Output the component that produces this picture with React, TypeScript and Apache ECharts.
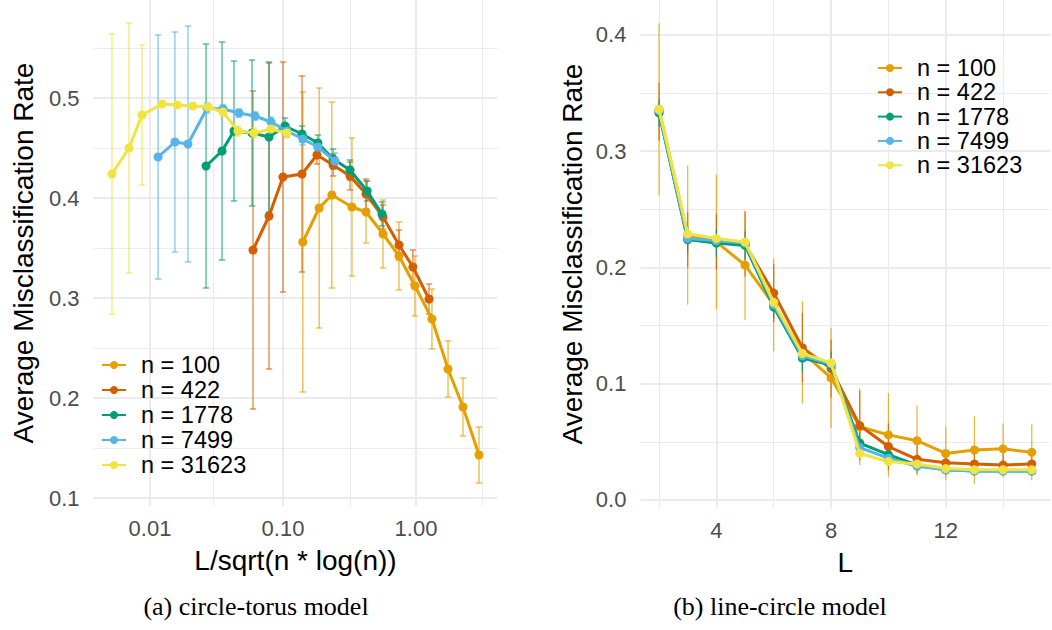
import React, { useEffect, useRef } from "react";
import * as echarts from "echarts";

const seriesNames = ["n = 100", "n = 422", "n = 1778", "n = 7499", "n = 31623"];
const colors = ["#E69F00", "#D55E00", "#009E73", "#56B4E9", "#F0E442"];

// ---------- (a) circle-torus model : x = L/sqrt(n*log(n)) ----------
const leftX100 = [0.141, 0.187, 0.233, 0.330, 0.421, 0.565, 0.745, 0.982, 1.318, 1.741, 2.256, 2.977];
const leftY100 = [0.356, 0.390, 0.403, 0.391, 0.386, 0.364, 0.342, 0.312, 0.279, 0.229, 0.191, 0.143];
const leftSd100 = [0.150, 0.120, 0.093, 0.069, 0.031, 0.034, 0.034, 0.030, 0.030, 0.028, 0.029, 0.028];

const leftX422 = [0.0595, 0.0785, 0.100, 0.139, 0.180, 0.238, 0.319, 0.421, 0.565, 0.745, 0.948, 1.253];
const leftY422 = [0.348, 0.382, 0.421, 0.424, 0.443, 0.433, 0.422, 0.404, 0.381, 0.353, 0.331, 0.299];
const leftSd422 = [0.159, 0.153, 0.115, 0.098, 0.009, 0.011, 0.014, 0.015, 0.012, 0.015, 0.017, 0.015];

const leftX1778 = [0.0264, 0.0348, 0.0428, 0.0585, 0.0785, 0.1035, 0.139, 0.183, 0.238, 0.319, 0.429, 0.555];
const leftY1778 = [0.432, 0.447, 0.467, 0.465, 0.461, 0.472, 0.464, 0.455, 0.439, 0.428, 0.407, 0.384];
const leftSd1778 = [0.122, 0.109, 0.070, 0.073, 0.075, 0.008, 0.008, 0.008, 0.010, 0.010, 0.010, 0.012];

const leftX7499 = [0.0115, 0.0154, 0.0193, 0.0269, 0.0354, 0.0467, 0.0616, 0.0813, 0.107, 0.141, 0.183, 0.246];
const leftY7499 = [0.441, 0.456, 0.454, 0.490, 0.489, 0.485, 0.482, 0.476, 0.467, 0.459, 0.451, 0.437];
const leftSd7499 = [0.122, 0.110, 0.118, 0.005, 0.004, 0.004, 0.004, 0.005, 0.006, 0.006, 0.007, 0.008];

const leftX31623 = [0.00518, 0.00695, 0.00871, 0.0123, 0.0160, 0.0210, 0.0273, 0.0354, 0.0459, 0.0605, 0.0813, 0.107];
const leftY31623 = [0.424, 0.450, 0.483, 0.494, 0.493, 0.492, 0.491, 0.486, 0.467, 0.465, 0.469, 0.465];
const leftSd31623 = [0.140, 0.125, 0.070, 0.003, 0.003, 0.003, 0.003, 0.004, 0.005, 0.005, 0.005, 0.005];

// ---------- (b) line-circle model : x = L ----------
const rightL = [2, 3, 4, 5, 6, 7, 8, 9, 10, 11, 12, 13, 14, 15];
const rightY100 = [0.336, 0.228, 0.222, 0.202, 0.168, 0.127, 0.105, 0.063, 0.056, 0.051, 0.040, 0.043, 0.044, 0.041];
const rightSd100 = [0.074, 0.060, 0.058, 0.047, 0.040, 0.044, 0.043, 0.033, 0.036, 0.030, 0.023, 0.029, 0.022, 0.024];
const rightY422 = [0.334, 0.224, 0.222, 0.220, 0.178, 0.131, 0.113, 0.064, 0.046, 0.035, 0.032, 0.031, 0.030, 0.031];
const rightSd422 = [0.025, 0.024, 0.024, 0.028, 0.025, 0.030, 0.025, 0.030, 0.020, 0.012, 0.010, 0.010, 0.010, 0.010];
const rightY1778 = [0.333, 0.224, 0.221, 0.219, 0.166, 0.122, 0.116, 0.049, 0.039, 0.030, 0.026, 0.025, 0.025, 0.025];
const rightSd1778 = [0.012, 0.012, 0.012, 0.012, 0.010, 0.012, 0.012, 0.010, 0.010, 0.005, 0.004, 0.004, 0.004, 0.004];
const rightY7499 = [0.335, 0.225, 0.223, 0.221, 0.168, 0.124, 0.117, 0.045, 0.036, 0.029, 0.026, 0.025, 0.025, 0.025];
const rightSd7499 = [0.005, 0.004, 0.004, 0.004, 0.004, 0.004, 0.004, 0.004, 0.004, 0.003, 0.003, 0.003, 0.003, 0.003];
const rightY31623 = [0.336, 0.229, 0.225, 0.222, 0.170, 0.126, 0.118, 0.040, 0.033, 0.031, 0.027, 0.026, 0.026, 0.026];
const rightSd31623 = [0.002, 0.002, 0.002, 0.002, 0.002, 0.002, 0.002, 0.002, 0.002, 0.002, 0.002, 0.002, 0.002, 0.002];

// tick values
const leftYTicks = [0.1, 0.2, 0.3, 0.4, 0.5];
const leftYMinor = [0.15, 0.25, 0.35, 0.45, 0.55];
const leftXTicks = [0.01, 0.1, 1];
const leftXMinor = [0.0316, 0.316, 3.16];
const rightYTicks = [0, 0.1, 0.2, 0.3, 0.4];
const rightYMinor = [0.05, 0.15, 0.25, 0.35];
const rightXTicks = [4, 8, 12];
const rightXMinor = [2, 6, 10, 14];

const leftSets = [
  [leftX100, leftY100, leftSd100],
  [leftX422, leftY422, leftSd422],
  [leftX1778, leftY1778, leftSd1778],
  [leftX7499, leftY7499, leftSd7499],
  [leftX31623, leftY31623, leftSd31623],
];
const rightSets = [
  [rightY100, rightSd100],
  [rightY422, rightSd422],
  [rightY1778, rightSd1778],
  [rightY7499, rightSd7499],
  [rightY31623, rightSd31623],
];

const FONT = '"Liberation Sans", Arial, Helvetica, sans-serif';
const GRID = "#ebebeb";

function errorSeries(data: number[][], color: string, xi: number, capHalf: number) {
  return {
    type: "custom",
    name: "err",
    xAxisIndex: xi,
    yAxisIndex: xi,
    z: 1,
    silent: true,
    encode: { x: 0, y: [1, 2] },
    data,
    renderItem: (params: any, api: any) => {
      const x = api.value(0);
      const lo = api.value(1);
      const hi = api.value(2);
      const p1 = api.coord([x, hi]);
      const p2 = api.coord([x, lo]);
      const style = { stroke: color, lineWidth: 1.2, opacity: 0.8 };
      const children: any[] = [
        { type: "line", shape: { x1: p1[0], y1: p1[1], x2: p2[0], y2: p2[1] }, style },
      ];
      if (capHalf > 0) {
        children.push({ type: "line", shape: { x1: p1[0] - capHalf, y1: p1[1], x2: p1[0] + capHalf, y2: p1[1] }, style });
        children.push({ type: "line", shape: { x1: p2[0] - capHalf, y1: p2[1], x2: p2[0] + capHalf, y2: p2[1] }, style });
      }
      return { type: "group", children };
    },
  };
}

function gridSeries(xi: number, xMajor: number[], xMinor: number[], yMajor: number[], yMinor: number[]) {
  const major = { color: GRID, width: 2, type: "solid" };
  const minor = { color: GRID, width: 1, type: "solid" };
  return {
    type: "line",
    name: "grid",
    xAxisIndex: xi,
    yAxisIndex: xi,
    data: [],
    silent: true,
    z: 0,
    markLine: {
      silent: true,
      z: 0,
      symbol: ["none", "none"],
      label: { show: false },
      emphasis: { disabled: true },
      data: [
        ...yMinor.map((v) => ({ yAxis: v, lineStyle: minor })),
        ...xMinor.map((v) => ({ xAxis: v, lineStyle: minor })),
        ...yMajor.map((v) => ({ yAxis: v, lineStyle: major })),
        ...xMajor.map((v) => ({ xAxis: v, lineStyle: major })),
      ],
    },
  };
}

export default function App() {
  const ref = useRef<HTMLDivElement>(null);
  useEffect(() => {
    if (!ref.current) return;
    const chart = echarts.init(ref.current, null, { renderer: "svg" });
    const series: any[] = [
      gridSeries(0, leftXTicks, leftXMinor, leftYTicks, leftYMinor),
      gridSeries(1, rightXTicks, rightXMinor, rightYTicks, rightYMinor),
    ];
    leftSets.forEach(([xs, ys, sds], i) => {
      series.push(errorSeries(xs.map((x, j) => [x, ys[j] - sds[j], ys[j] + sds[j]]), colors[i], 0, 3.2));
    });
    rightSets.forEach(([ys, sds], i) => {
      series.push(errorSeries(rightL.map((x, j) => [x, ys[j] - sds[j], ys[j] + sds[j]]), colors[i], 1, 0));
    });
    const lineCommon = {
      type: "line",
      symbol: "circle",
      symbolSize: 9,
    };
    leftSets.forEach(([xs, ys], i) => {
      series.push({
        ...lineCommon,
        name: seriesNames[i],
        xAxisIndex: 0,
        yAxisIndex: 0,
        z: 2 + i,
        data: xs.map((x, j) => [x, ys[j]]),
        color: colors[i],
        itemStyle: { color: colors[i] },
        lineStyle: { color: colors[i], width: 3 },
      });
    });
    rightSets.forEach(([ys], i) => {
      series.push({
        ...lineCommon,
        name: seriesNames[i],
        xAxisIndex: 1,
        yAxisIndex: 1,
        z: 2 + i,
        data: rightL.map((x, j) => [x, ys[j]]),
        color: colors[i],
        itemStyle: { color: colors[i] },
        lineStyle: { color: colors[i], width: 3 },
      });
    });

    const tickLabel = { color: "#4d4d4d", fontSize: 22, fontFamily: FONT };
    const hidden = { axisLine: { show: false }, axisTick: { show: false }, splitLine: { show: false } };
    const isPow10 = (v: number) => {
      const l = Math.log10(v);
      return Math.abs(l - Math.round(l)) < 1e-6;
    };

    const legendBase = {
      orient: "vertical",
      data: seriesNames,
      itemWidth: 24,
      itemHeight: 10,
      selectedMode: false,
      textStyle: { fontSize: 23.5, fontFamily: FONT, color: "#000", padding: [0, 0, 0, 10] },
    };

    chart.setOption({
      animation: false,
      backgroundColor: "#ffffff",
      textStyle: { fontFamily: FONT },
      grid: [
        { left: 93.6, top: 0, width: 403.8, height: 506 },
        { left: 640.4, top: 0, width: 410, height: 508 },
      ],
      xAxis: [
        {
          type: "log",
          logBase: 10,
          gridIndex: 0,
          min: 0.003767,
          max: 4.093,
          ...hidden,
          axisLabel: {
            ...tickLabel,
            margin: 11,
            showMinLabel: false,
            showMaxLabel: false,
            formatter: (v: number) => (isPow10(v) ? v.toFixed(2) : ""),
          },
          name: "L/sqrt(n * log(n))",
          nameLocation: "middle",
          nameGap: 40,
          nameTextStyle: { fontSize: 28, color: "#000", fontFamily: FONT },
        },
        {
          type: "value",
          gridIndex: 1,
          min: 1.35,
          max: 15.65,
          ...hidden,
          axisLabel: {
            ...tickLabel,
            margin: 11,
            customValues: rightXTicks,
            formatter: (v: number) => String(v),
          },
          name: "L",
          nameLocation: "middle",
          nameGap: 40,
          nameTextStyle: { fontSize: 28, color: "#000", fontFamily: FONT },
        },
      ],
      yAxis: [
        {
          type: "value",
          gridIndex: 0,
          min: 0.092,
          max: 0.598,
          ...hidden,
          axisLabel: {
            ...tickLabel,
            margin: 14,
            customValues: leftYTicks,
            formatter: (v: number) => v.toFixed(1),
          },
          name: "Average Misclassification Rate",
          nameLocation: "middle",
          nameGap: 56,
          nameTextStyle: { fontSize: 28, color: "#000", fontFamily: FONT },
        },
        {
          type: "value",
          gridIndex: 1,
          min: -0.0069,
          max: 0.4301,
          ...hidden,
          axisLabel: {
            ...tickLabel,
            margin: 14,
            customValues: rightYTicks,
            formatter: (v: number) => v.toFixed(1),
          },
          name: "Average Misclassification Rate",
          nameLocation: "middle",
          nameGap: 54,
          nameTextStyle: { fontSize: 28, color: "#000", fontFamily: FONT },
        },
      ],
      legend: [
        { ...legendBase, left: 96, top: 348, itemGap: 1 },
        { ...legendBase, left: 872, top: 51, itemGap: 0.3 },
      ],
      graphic: [
        {
          type: "text",
          x: 256,
          y: 606,
          style: {
            text: "(a) circle-torus model",
            font: '26px "Liberation Serif", "Times New Roman", serif',
            fill: "#000",
            textAlign: "center",
            textVerticalAlign: "middle",
            align: "center",
            verticalAlign: "middle",
          },
        },
        {
          type: "text",
          x: 780,
          y: 606,
          style: {
            text: "(b) line-circle model",
            font: '26px "Liberation Serif", "Times New Roman", serif',
            fill: "#000",
            textAlign: "center",
            textVerticalAlign: "middle",
            align: "center",
            verticalAlign: "middle",
          },
        },
      ],
      series,
    });
    return () => chart.dispose();
  }, []);
  return (
    <div
      ref={ref}
      style={{ position: "fixed", left: 0, top: 0, width: 1052, height: 630, background: "#fff" }}
    />
  );
}
